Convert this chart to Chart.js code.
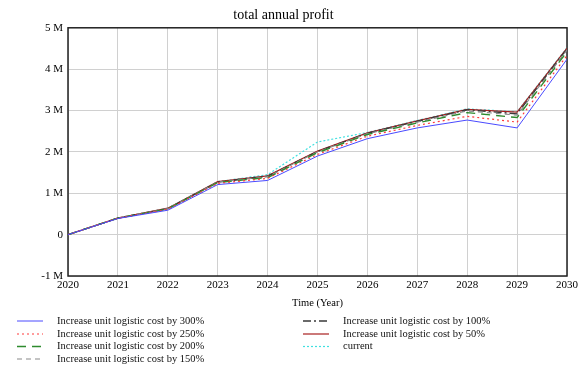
<!DOCTYPE html>
<html>
<head>
<meta charset="utf-8">
<script src="https://cdn.jsdelivr.net/npm/chart.js@4.4.0/dist/chart.umd.min.js"></script>
<style>
  html, body { margin: 0; padding: 0; background: #fff; }
  #wrap { width: 588px; height: 374px; position: relative; }
</style>
</head>
<body>
<div id="wrap"><canvas id="myChart" width="588" height="374"></canvas></div>
<script>
// data (values in millions)
const years = [2020, 2021, 2022, 2023, 2024, 2025, 2026, 2027, 2028, 2029, 2030];
const yTicks = [-1, 0, 1, 2, 3, 4, 5];

const cost300 = [0, 0.39, 0.59, 1.21, 1.31, 1.90, 2.32, 2.58, 2.77, 2.58, 4.24];
const cost250 = [0, 0.40, 0.61, 1.24, 1.36, 1.94, 2.38, 2.64, 2.86, 2.72, 4.33];
const cost200 = [0, 0.40, 0.62, 1.26, 1.38, 1.98, 2.42, 2.70, 2.95, 2.83, 4.42];
const cost150 = [0, 0.40, 0.63, 1.27, 1.40, 2.00, 2.44, 2.72, 2.99, 2.89, 4.46];
const cost100 = [0, 0.40, 0.63, 1.27, 1.41, 2.01, 2.45, 2.74, 3.02, 2.92, 4.49];
const cost50 = [0, 0.40, 0.64, 1.28, 1.42, 2.02, 2.46, 2.75, 3.03, 2.96, 4.51];
const current = [0, 0.40, 0.64, 1.28, 1.45, 2.24, 2.47, 2.76, 3.04, 2.97, 4.52];

const seriesNames = [
  "Increase unit logistic cost by 300%",
  "Increase unit logistic cost by 250%",
  "Increase unit logistic cost by 200%",
  "Increase unit logistic cost by 150%",
  "Increase unit logistic cost by 100%",
  "Increase unit logistic cost by 50%",
  "current",
];
const seriesValues = [cost300, cost250, cost200, cost150, cost100, cost50, current];

const styles = [
  { color: "#4a4aff", dash: [], width: 1 },
  { color: "#ff3b3b", dash: [2, 3], width: 1.2 },
  { color: "#2e8b2e", dash: [9, 6], width: 1.4 },
  { color: "#8a8a8a", dash: [5, 4], width: 1.2 },
  { color: "#3a3a3a", dash: [8, 3, 2, 3], width: 1.4 },
  { color: "#a82020", dash: [], width: 1.2 },
  { color: "#40e0e0", dash: [2, 2], width: 1.2 },
];

const FONT = "'Liberation Serif', 'Times New Roman', serif";

function toPoints(vals) {
  return vals.map((v, i) => ({ x: years[i], y: v * 1e6 }));
}

const datasets = seriesValues.map((vals, i) => ({
  label: seriesNames[i],
  data: toPoints(vals),
  borderColor: styles[i].color,
  borderDash: styles[i].dash,
  borderWidth: styles[i].width,
  pointRadius: 0,
  tension: 0,
  fill: false,
}));

// frame around plot area
const framePlugin = {
  id: "frame",
  beforeDatasetsDraw(chart) {
    const a = chart.chartArea;
    const ctx = chart.ctx;
    ctx.save();
    ctx.strokeStyle = "#222";
    ctx.lineWidth = 1.5;
    ctx.strokeRect(a.left, a.top, a.right - a.left, a.bottom - a.top);
    ctx.restore();
  },
};

// legend in two columns under the axis
const legendPlugin = {
  id: "bottomLegend",
  afterDraw(chart) {
    const ctx = chart.ctx;
    const rowY = [321, 334, 346.5, 359];
    ctx.save();
    ctx.font = "10.5px " + FONT;
    ctx.textBaseline = "middle";
    chart.data.datasets.forEach((ds, i) => {
      const col = i < 4 ? 0 : 1;
      const row = i < 4 ? i : i - 4;
      const x0 = col === 0 ? 17 : 303;
      const y = rowY[row];
      ctx.beginPath();
      ctx.setLineDash(ds.borderDash);
      ctx.strokeStyle = ds.borderColor;
      ctx.lineWidth = ds.borderWidth;
      ctx.moveTo(x0, y);
      ctx.lineTo(x0 + 26, y);
      ctx.stroke();
      ctx.setLineDash([]);
      ctx.fillStyle = "#111";
      ctx.fillText(ds.label, x0 + 40, y);
    });
    ctx.restore();
  },
};

const ctx = document.getElementById("myChart").getContext("2d");
const myChart = new Chart(ctx, {
  type: "line",
  data: { datasets: datasets },
  options: {
    responsive: false,
    animation: false,
    layout: { padding: { left: 0, right: 21, top: 0, bottom: 62 } },
    plugins: {
      legend: { display: false },
      tooltip: { enabled: false },
      title: {
        display: true,
        text: "total annual profit",
        color: "#000",
        font: { family: FONT, size: 14, weight: "normal" },
        padding: { top: 7, bottom: 4 },
      },
    },
    scales: {
      x: {
        type: "linear",
        min: years[0],
        max: years[years.length - 1],
        afterBuildTicks(scale) {
          scale.ticks = years.map((v) => ({ value: v }));
        },
        afterFit(scale) {
          scale.height = 36;
        },
        ticks: {
          color: "#000",
          font: { family: FONT, size: 11 },
          padding: 3,
          maxRotation: 0,
          autoSkip: false,
          callback: (v) => String(v),
        },
        grid: { color: "#d0d0d0", drawTicks: false },
        border: { display: false },
        title: {
          display: true,
          text: "Time (Year)",
          color: "#000",
          font: { family: FONT, size: 10.5 },
          padding: { top: 0, bottom: 2 },
        },
      },
      y: {
        min: yTicks[0] * 1e6,
        max: yTicks[yTicks.length - 1] * 1e6,
        afterBuildTicks(scale) {
          scale.ticks = yTicks.map((v) => ({ value: v * 1e6 }));
        },
        afterFit(scale) {
          scale.width = 68;
        },
        ticks: {
          color: "#000",
          font: { family: FONT, size: 11 },
          padding: 5,
          callback: (v) => (v === 0 ? "0" : v / 1e6 + " M"),
        },
        grid: { color: "#d0d0d0", drawTicks: false },
        border: { display: false },
      },
    },
  },
  plugins: [framePlugin, legendPlugin],
});
</script>
</body>
</html>
